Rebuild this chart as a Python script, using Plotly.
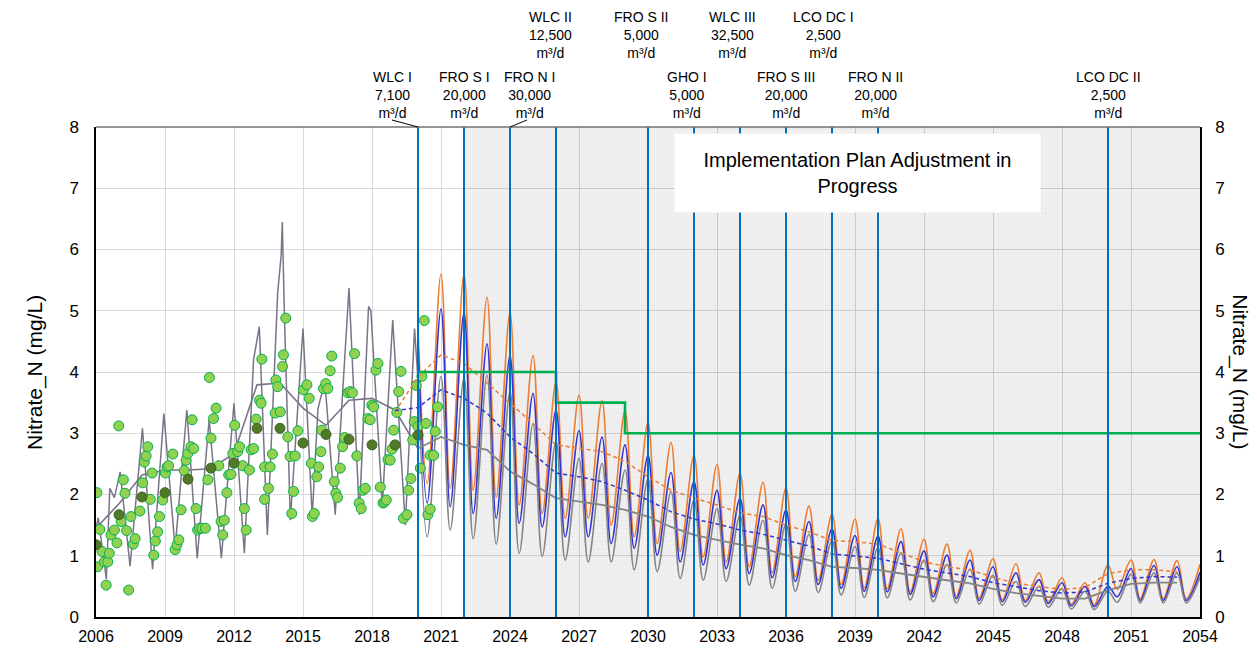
import plotly.graph_objects as go

# ---------------- DATA ----------------
# Implementation milestones
impl_years = [2020, 2022, 2024, 2026, 2030, 2032, 2034, 2036, 2038, 2040, 2050]
impl_names = ["WLC I", "FRO S I", "FRO N I", "WLC II", "FRO S II", "GHO I",
              "WLC III", "FRO S III", "LCO DC I", "FRO N II", "LCO DC II"]
impl_caps = ["7,100", "20,000", "30,000", "12,500", "5,000", "5,000",
             "32,500", "20,000", "2,500", "20,000", "2,500"]
label_level = [1, 1, 1, 2, 2, 1, 2, 1, 2, 1, 1]
label_shift = [-26, 0, 19, -6, -7, -7, -8, 0, -9, -3, 0]

shade_start = 2022
shade_end = 2054

# Target (step) line
target_x = [2020, 2026, 2029, 2054]
target_y = [4.0, 3.5, 3.0, 3.0]

# Historic seasonal line (purple-grey)
hist_t = [2006.0, 2006.1, 2006.45, 2006.6, 2006.8, 2007.05, 2007.48, 2008.02, 2008.46,
          2008.95, 2009.44, 2009.95, 2010.4, 2010.92, 2011.45, 2012.0, 2012.45,
          2012.85, 2013.1, 2013.45, 2013.9, 2014.05, 2014.1, 2014.2, 2014.45,
          2015.0, 2015.4, 2015.65, 2015.95, 2016.4, 2017.0, 2017.45, 2017.85,
          2017.95, 2018.45, 2018.9, 2019.45, 2019.85, 2020.1]
hist_v = [1.45, 1.62, 0.62, 2.10, 1.95, 2.37, 0.83, 3.08, 0.78,
          3.32, 1.12, 3.38, 0.96, 3.22, 0.96, 3.49, 1.04,
          4.20, 4.74, 1.34, 5.30, 5.90, 6.45, 4.80, 1.58,
          4.71, 1.64, 3.40, 3.85, 1.67, 5.37, 1.67, 5.07,
          5.00, 1.83, 4.85, 1.50, 4.71, 3.30]

# Historic annual line (purple-grey)
hist_ann_t = [2006, 2007, 2008, 2009, 2010, 2011, 2012, 2013, 2014, 2015, 2016,
              2017, 2018, 2019, 2020]
hist_ann_v = [1.45, 1.85, 2.32, 2.40, 2.40, 2.42, 2.67, 3.79, 3.82, 3.41, 3.13,
              3.54, 3.57, 3.38, 2.75]

# Observations (light green)
obs_t = [2006.04, 2006.17, 2006.07, 2006.26, 2006.44, 2006.36, 2006.51, 2006.58, 2006.65,
         2006.80, 2006.91, 2006.99, 2007.09, 2007.19, 2007.26, 2007.33, 2007.42, 2007.52,
         2007.62, 2007.70, 2007.91, 2008.03, 2008.10, 2008.18, 2008.25, 2008.36, 2008.44,
         2008.51, 2008.58, 2008.68, 2008.76, 2008.90, 2009.02, 2009.09, 2009.16, 2009.34,
         2009.44, 2009.52, 2009.60, 2009.70, 2009.84, 2009.92, 2009.99, 2010.13, 2010.18,
         2010.25, 2010.35, 2010.42, 2010.50, 2010.61, 2010.76, 2010.86, 2010.93, 2011.00,
         2011.11, 2011.22, 2011.34, 2011.44, 2011.51, 2011.58, 2011.69, 2011.77, 2011.87,
         2011.95, 2012.03, 2012.16, 2012.24, 2012.38, 2012.45, 2012.53, 2012.67, 2012.75,
         2012.85, 2012.96, 2013.11, 2013.18, 2013.21, 2013.33, 2013.33,
         2013.50, 2013.57, 2013.67, 2013.79, 2013.82, 2013.90, 2014.01, 2014.11, 2014.15,
         2014.25, 2014.34, 2014.44, 2014.51, 2014.59, 2014.66, 2014.78, 2015.02, 2015.17,
         2015.27, 2015.36, 2015.41, 2015.49, 2015.60, 2015.68, 2015.78, 2015.82, 2015.89,
         2015.99, 2016.08, 2016.18, 2016.25, 2016.36, 2016.43, 2016.50, 2016.62, 2016.72,
         2016.81, 2016.95, 2017.05, 2017.15, 2017.24, 2017.34, 2017.44, 2017.53, 2017.61,
         2017.71, 2017.82, 2017.92, 2017.99, 2018.07, 2018.17, 2018.26, 2018.36, 2018.48,
         2018.55, 2018.62, 2018.69, 2018.79, 2018.87, 2018.94, 2019.08, 2019.16, 2019.26,
         2019.37, 2019.52, 2019.59, 2019.69, 2019.77, 2019.84, 2019.93, 2020.00, 2020.10,
         2020.17, 2020.27, 2020.35, 2020.43, 2020.53, 2020.53, 2020.68, 2020.75, 2020.85]
obs_v = [2.03, 1.43, 0.82, 1.07, 0.52, 0.90, 0.90, 1.04, 1.34,
         1.42, 1.21, 3.12, 1.56, 2.24, 2.02, 1.41, 0.44, 1.64,
         1.19, 1.28, 1.73, 2.19, 2.53, 2.63, 2.78, 1.92, 2.35,
         1.01, 1.24, 1.39, 1.64, 1.91, 2.35, 2.45, 2.47, 2.66,
         1.10, 1.18, 1.26, 1.75, 2.39, 2.56, 2.67, 2.78, 3.22,
         2.75, 1.77, 1.42, 1.45, 1.45, 1.45, 2.24, 3.91, 2.92,
         3.24, 3.41, 2.47, 1.56, 1.34, 1.58, 2.03, 2.32, 2.33,
         2.67, 3.13, 2.70, 2.78, 2.47, 1.77, 1.42, 2.40, 2.73,
         2.75, 3.23, 3.54, 3.49, 4.21, 1.92, 2.45,
         2.10, 2.45, 2.66, 3.33, 3.87, 3.76, 3.35, 4.09, 4.28,
         4.88, 2.94, 2.62, 1.69, 2.05, 2.63, 3.04, 3.71, 3.79,
         3.57, 2.51, 1.64, 1.69, 2.29, 2.45, 2.70, 3.05, 3.73,
         3.81, 3.73, 4.02, 4.26, 2.21, 2.02, 1.95, 2.43, 2.78,
         2.93, 3.66, 3.68, 3.66, 4.30, 2.63, 1.86, 1.77, 2.07,
         2.10, 3.24, 3.22, 3.46, 3.43, 4.03, 4.14, 2.12, 1.86,
         1.88, 1.91, 2.57, 2.56, 2.74, 3.05, 3.34, 3.68, 4.01,
         1.61, 1.67, 2.07, 2.26, 2.89, 3.19, 3.78, 3.11, 2.43,
         3.93, 4.84, 3.16, 1.67, 1.76, 2.64, 2.64, 3.03, 3.43]

# Observed annual means (dark green)
obs_ann_t = [2006, 2007, 2008, 2009, 2010, 2011, 2012, 2013, 2014, 2015, 2016,
             2017, 2018, 2019, 2020]
obs_ann_v = [1.18, 1.67, 1.96, 2.03, 2.25, 2.43, 2.51, 3.08, 3.08, 2.84, 2.98,
             2.90, 2.81, 2.81, 2.97]

# Forecast seasonal series: winter peaks (Jan of each year) and spring troughs
peak_years = list(range(2020, 2055))
trough_offset = 0.4
orange_peak = [4.74, 5.60, 5.60, 5.22, 4.97, 4.27, 3.84, 3.62, 3.53, 3.37,
               3.18, 2.85, 2.64, 2.49, 2.35, 2.20, 2.11, 1.81, 1.68, 1.60,
               1.61, 1.44, 1.27, 1.19, 1.09, 0.95, 0.87, 0.72, 0.64, 0.56,
               0.85, 0.93, 0.94, 0.92, 0.86]
orange_trough = [2.18, 2.10, 2.07, 1.96, 1.83, 1.69, 1.61, 1.61, 1.50, 1.31,
                 1.20, 1.07, 0.98, 0.90, 0.82, 0.72, 0.66, 0.60, 0.53, 0.47,
                 0.46, 0.41, 0.38, 0.34, 0.31, 0.28, 0.27, 0.25, 0.21, 0.20,
                 0.45, 0.30, 0.30, 0.30]
blue_peak = [4.52, 5.03, 4.97, 4.46, 4.27, 3.65, 3.38, 3.04, 2.94, 2.81,
             2.64, 2.36, 2.21, 2.07, 1.94, 1.83, 1.75, 1.56, 1.44, 1.33,
             1.32, 1.23, 1.08, 1.01, 0.93, 0.82, 0.72, 0.61, 0.56, 0.50,
             0.50, 0.79, 0.84, 0.82, 0.73]
blue_trough = [1.86, 1.80, 1.69, 1.61, 1.53, 1.47, 1.31, 1.31, 1.20, 1.12,
               1.01, 0.90, 0.85, 0.79, 0.71, 0.64, 0.58, 0.53, 0.47, 0.42,
               0.41, 0.37, 0.33, 0.30, 0.27, 0.25, 0.24, 0.22, 0.18, 0.17,
               0.33, 0.27, 0.27, 0.27]
grey_peak = [4.00, 3.93, 3.90, 3.95, 3.68, 3.16, 2.87, 2.59, 2.51, 2.40,
             2.26, 2.05, 1.91, 1.77, 1.66, 1.58, 1.52, 1.35, 1.25, 1.15,
             1.13, 1.05, 0.93, 0.86, 0.78, 0.68, 0.58, 0.50, 0.46, 0.42,
             0.42, 0.70, 0.72, 0.72, 0.65]
grey_trough = [1.31, 1.42, 1.28, 1.19, 1.04, 0.99, 0.93, 0.90, 0.90, 0.77,
               0.74, 0.63, 0.60, 0.58, 0.52, 0.47, 0.42, 0.40, 0.36, 0.32,
               0.31, 0.28, 0.25, 0.23, 0.21, 0.19, 0.17, 0.16, 0.13, 0.12,
               0.24, 0.23, 0.23, 0.23]

# Forecast annual means
ann_years = list(range(2019, 2054))
orange_ann = [3.35, 3.92, 4.28, 4.14, 3.82, 3.49, 3.16, 2.81, 2.75, 2.70,
              2.54, 2.29, 2.07, 1.94, 1.83, 1.70, 1.64, 1.50, 1.39, 1.25,
              1.23, 1.19, 1.05, 0.90, 0.82, 0.77, 0.65, 0.55, 0.50, 0.45,
              0.48, 0.71, 0.77, 0.77, 0.74]
blue_ann = [3.37, 3.42, 3.71, 3.57, 3.33, 2.94, 2.67, 2.35, 2.29, 2.21,
            2.07, 1.91, 1.72, 1.60, 1.52, 1.42, 1.35, 1.26, 1.16, 1.03,
            1.00, 0.96, 0.87, 0.78, 0.72, 0.66, 0.56, 0.49, 0.43, 0.39,
            0.41, 0.55, 0.63, 0.66, 0.65]
grey_ann_years = list(range(2020, 2054))
grey_ann = [2.75, 2.94, 2.81, 2.73, 2.38, 2.17, 1.94, 1.88, 1.83, 1.75,
            1.64, 1.47, 1.34, 1.26, 1.18, 1.12, 1.01, 0.93, 0.82, 0.80,
            0.77, 0.71, 0.65, 0.60, 0.55, 0.46, 0.39, 0.34, 0.30, 0.30,
            0.44, 0.54, 0.56, 0.56]

box_text = "Implementation Plan Adjustment in<br>Progress"
y_title = "Nitrate_N (mg/L)"

# ---------------- STYLE ----------------
FONT = "Liberation Sans, Arial, sans-serif"
C_ORANGE = "#ed7d31"
C_BLUE = "#3434d2"
C_GREY = "#858585"
C_HIST = "#7b7388"
C_IMPL = "#0070c0"
C_TARGET = "#00b050"
DASH = "4px,3px"


def seasonal(peaks, troughs):
    xs, ys = [], []
    for i, yr in enumerate(peak_years):
        xs.append(yr)
        ys.append(peaks[i])
        if i < len(troughs):
            xs.append(yr + trough_offset)
            ys.append(troughs[i])
    return xs, ys


fig = go.Figure()

# shaded period with fine grid pattern
fig.add_trace(go.Bar(
    x=[(shade_start + shade_end) / 2], y=[8], base=0, width=[shade_end - shade_start],
    marker=dict(color="rgba(0,0,0,0.055)", line=dict(width=0),
                pattern=dict(shape="+", fgcolor="rgba(0,0,0,0.07)",
                             bgcolor="rgba(0,0,0,0.055)", size=4, solidity=0.3)),
    hoverinfo="skip", showlegend=False))

# historic
fig.add_trace(go.Scatter(x=hist_t, y=hist_v, mode="lines",
                         line=dict(color=C_HIST, width=1.5), showlegend=False))
fig.add_trace(go.Scatter(x=hist_ann_t, y=hist_ann_v, mode="lines",
                         line=dict(color=C_HIST, width=1.6), showlegend=False))

# forecast seasonal
for pk, tr, col in [(orange_peak, orange_trough, C_ORANGE),
                    (blue_peak, blue_trough, C_BLUE),
                    (grey_peak, grey_trough, C_GREY)]:
    xs, ys = seasonal(pk, tr)
    fig.add_trace(go.Scatter(x=xs, y=ys, mode="lines",
                             line=dict(color=col, width=1.6, shape="spline", smoothing=1.0),
                             showlegend=False))

# observations
fig.add_trace(go.Scatter(x=obs_t, y=obs_v, mode="markers",
                         marker=dict(size=10, color="#92d050",
                                     line=dict(color="#00b050", width=1)),
                         showlegend=False))
fig.add_trace(go.Scatter(x=obs_ann_t, y=obs_ann_v, mode="markers",
                         marker=dict(size=10, color="#4f7a28",
                                     line=dict(color="#3f6420", width=1)),
                         showlegend=False))

# forecast annual
fig.add_trace(go.Scatter(x=ann_years, y=orange_ann, mode="lines",
                         line=dict(color=C_ORANGE, width=1.5, dash=DASH), showlegend=False))
fig.add_trace(go.Scatter(x=ann_years, y=blue_ann, mode="lines",
                         line=dict(color=C_BLUE, width=1.5, dash=DASH), showlegend=False))
fig.add_trace(go.Scatter(x=grey_ann_years, y=grey_ann, mode="lines",
                         line=dict(color=C_GREY, width=1.8), showlegend=False))

# target
fig.add_trace(go.Scatter(x=target_x, y=target_y, mode="lines",
                         line=dict(color=C_TARGET, width=2.6, shape="hv"), showlegend=False))

# right axis dummy trace
fig.add_trace(go.Scatter(x=[2006], y=[0], yaxis="y2", mode="markers",
                         marker=dict(opacity=0), hoverinfo="skip", showlegend=False))

shapes = []
for yr in impl_years:
    shapes.append(dict(type="line", xref="x", yref="paper", x0=yr, x1=yr, y0=0, y1=1,
                       line=dict(color=C_IMPL, width=2)))
# top border
shapes.append(dict(type="line", xref="paper", yref="paper", x0=0, x1=1, y0=1, y1=1,
                   line=dict(color="#767171", width=1.5)))
# leader lines for offset labels
for i, yr in enumerate(impl_years):
    if label_shift[i] in (-26, 19):
        dx = -26 if label_shift[i] < 0 else 17
        shapes.append(dict(type="line", xref="x", yref="paper",
                           xsizemode="pixel", xanchor=yr, x0=0, x1=dx,
                           ysizemode="pixel", yanchor=1, y0=0, y1=7,
                           line=dict(color="black", width=1)))

annotations = []
for i, yr in enumerate(impl_years):
    annotations.append(dict(
        x=yr, xref="x", y=1.0653 if label_level[i] == 1 else 1.1878, yref="paper",
        text=f"{impl_names[i]}<br>{impl_caps[i]}<br>m³/d", showarrow=False,
        xshift=label_shift[i], yanchor="middle", xanchor="center", align="center",
        font=dict(family=FONT, size=14, color="black")))

annotations.append(dict(
    x=0.690, y=0.906, xref="paper", yref="paper", text=box_text, showarrow=False,
    xanchor="center", yanchor="middle",
    bgcolor="white", width=357, height=70, borderpad=4, align="center",
    font=dict(family=FONT, size=20, color="black")))

annotations.append(dict(x=-0.0553, y=0.5, xref="paper", yref="paper", text=y_title,
                        textangle=-90, showarrow=False, xanchor="center", yanchor="middle",
                        font=dict(family=FONT, size=21, color="black")))
annotations.append(dict(x=1.036, y=0.5, xref="paper", yref="paper", text=y_title,
                        textangle=90, showarrow=False, xanchor="center", yanchor="middle",
                        font=dict(family=FONT, size=21, color="black")))

fig.update_layout(
    width=1257, height=648,
    margin=dict(l=96, r=57, t=127, b=31, autoexpand=False),
    paper_bgcolor="white", plot_bgcolor="white",
    showlegend=False, bargap=0,
    font=dict(family=FONT, size=16, color="black"),
    xaxis=dict(range=[2006, 2054], tickmode="array", tickvals=list(range(2006, 2055, 3)),
               showgrid=True, gridcolor="#d9d9d9", gridwidth=1, zeroline=False,
               showline=True, linecolor="black", linewidth=1.5, automargin=False,
               ticks="", ticklabelstandoff=4, tickfont=dict(size=16)),
    yaxis=dict(range=[0, 8], dtick=1, showgrid=True, gridcolor="#d9d9d9", gridwidth=1,
               zeroline=False, showline=True, linecolor="black", linewidth=1.5,
               automargin=False, ticks="", ticklabelstandoff=12, tickfont=dict(size=17)),
    yaxis2=dict(range=[0, 8], dtick=1, overlaying="y", side="right", showgrid=False,
                zeroline=False, showline=True, linecolor="black", linewidth=1.5,
                automargin=False, ticks="", ticklabelstandoff=10, tickfont=dict(size=17)),
    shapes=shapes, annotations=annotations,
)

fig.write_html("out.html", config={"displayModeBar": False},
               post_script="document.body.style.margin='0px';")
